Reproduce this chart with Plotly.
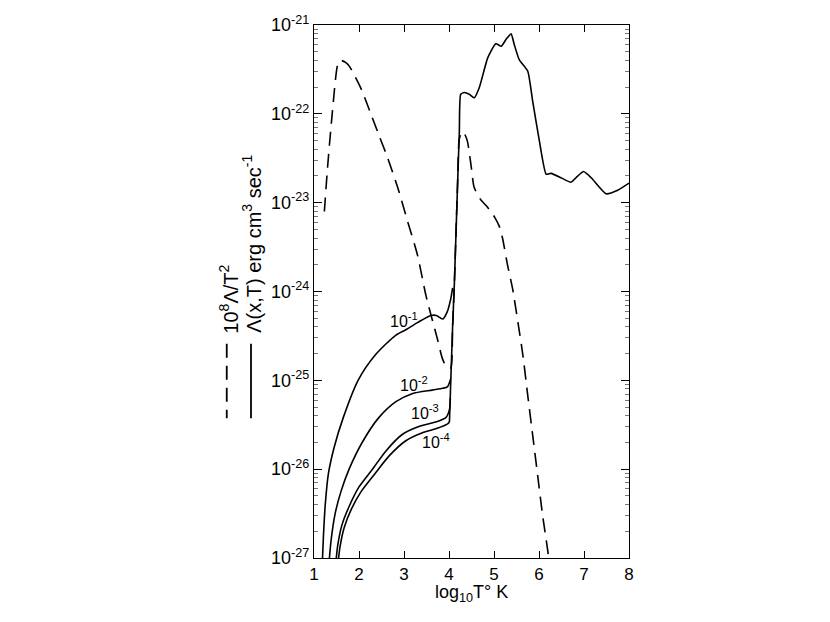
import plotly.graph_objects as go
import numpy as np

# log10 T and log10 Lambda
dash_x = [1.23, 1.30, 1.41, 1.53, 1.60, 1.70, 1.78, 2.04, 2.27, 2.45, 2.64, 2.86, 3.08, 3.30,
          3.49, 3.74, 3.85, 3.93, 3.98, 4.04, 4.08, 4.12, 4.19, 4.23, 4.30, 4.35, 4.41, 4.49,
          4.56, 4.71, 4.82, 4.93, 5.01, 5.12, 5.19, 5.30, 5.41, 5.53, 5.64, 5.75, 5.86, 5.97,
          6.08, 6.19, 6.23]
dash_y = [-23.10, -22.61, -21.97, -21.44, -21.40, -21.42, -21.46, -21.71, -22.01, -22.25,
          -22.50, -22.83, -23.21, -23.59, -24.05, -24.53, -24.75, -24.84, -24.86, -24.86,
          -24.40, -23.90, -22.80, -22.28, -22.20, -22.23, -22.31, -22.58, -22.83, -22.97,
          -23.03, -23.10, -23.16, -23.27, -23.40, -23.70, -23.96, -24.34, -24.71, -25.17,
          -25.62, -26.07, -26.52, -26.90, -27.05]

x_e1 = [1.185, 1.21, 1.25, 1.32, 1.45, 1.65, 1.98, 2.37, 2.82, 3.04, 3.30, 3.60, 3.72, 3.86,
        3.96, 4.04, 4.08]
y_e1 = [-27.05, -26.75, -26.40, -26.05, -25.75, -25.42, -25.00, -24.71, -24.49, -24.43,
        -24.35, -24.27, -24.27, -24.31, -24.23, -24.08, -23.96]

x_e2 = [1.335, 1.38, 1.47, 1.60, 1.78, 2.07, 2.44, 2.82, 3.18, 3.63, 3.86, 3.97, 4.04]
y_e2 = [-27.05, -26.80, -26.50, -26.25, -26.00, -25.70, -25.42, -25.24, -25.15, -25.11,
        -25.09, -25.07, -24.98]

x_e3 = [1.485, 1.53, 1.62, 1.78, 2.00, 2.30, 2.59, 2.96, 3.33, 3.70, 3.93, 4.01, 4.03]
y_e3 = [-27.05, -26.85, -26.63, -26.42, -26.20, -26.00, -25.80, -25.61, -25.52, -25.47,
        -25.42, -25.33, -25.20]

x_e4 = [1.535, 1.58, 1.67, 1.83, 2.05, 2.37, 2.67, 3.04, 3.41, 3.74, 3.97, 4.01]
y_e4 = [-27.05, -26.87, -26.66, -26.45, -26.25, -26.04, -25.85, -25.68, -25.59, -25.54,
        -25.49, -25.47]

x_hot = [4.01, 4.04, 4.08, 4.12, 4.19, 4.23, 4.26, 4.34, 4.45, 4.56, 4.67, 4.86, 5.04, 5.16,
         5.27, 5.38, 5.45, 5.56, 5.75, 5.86, 6.01, 6.16, 6.27, 6.49, 6.71, 6.86, 6.99, 7.16,
         7.49, 7.75, 8.0]
y_hot = [-25.47, -25.00, -24.40, -23.90, -22.80, -22.20, -21.78, -21.76, -21.78, -21.82,
         -21.71, -21.37, -21.21, -21.24, -21.16, -21.10, -21.22, -21.39, -21.52, -21.86,
         -22.31, -22.68, -22.67, -22.72, -22.77, -22.70, -22.65, -22.72, -22.90, -22.86,
         -22.78]

y_ticks = [-27, -26, -25, -24, -23, -22, -21]
x_ticks = [1, 2, 3, 4, 5, 6, 7, 8]

curve_labels = ["10<sup>-1</sup>", "10<sup>-2</sup>", "10<sup>-3</sup>", "10<sup>-4</sup>"]
label_x = [3.00, 3.23, 3.47, 3.72]
label_y = [-24.32, -25.04, -25.36, -25.68]

FONT = "Liberation Sans, Arial, sans-serif"

fig = go.Figure()

fig.add_trace(go.Scatter(
    x=dash_x, y=10.0 ** np.array(dash_y), mode="lines",
    line=dict(color="black", width=1.6, dash="14px,8px", shape="spline", smoothing=0.6),
    hoverinfo="skip"))

for xs, ys in [(x_e1, y_e1), (x_e2, y_e2), (x_e3, y_e3), (x_e4, y_e4)]:
    fig.add_trace(go.Scatter(
        x=xs, y=10.0 ** np.array(ys), mode="lines",
        line=dict(color="black", width=1.6, shape="spline", smoothing=0.7),
        hoverinfo="skip"))

fig.add_trace(go.Scatter(
    x=x_hot, y=10.0 ** np.array(y_hot), mode="lines",
    line=dict(color="black", width=1.6, shape="spline", smoothing=0.5),
    hoverinfo="skip"))

for t, lx, ly in zip(curve_labels, label_x, label_y):
    fig.add_annotation(x=lx, y=ly, text=t, showarrow=False,
                       font=dict(family=FONT, size=16, color="black"))

# x title placed by hand, tight under the tick labels
fig.add_annotation(xref="paper", yref="paper", x=0.5, y=-0.041, text="log<sub>10</sub>T° K",
                   showarrow=False, xanchor="center", yanchor="top",
                   font=dict(family=FONT, size=18, color="black"))

# rotated legend at the left
fig.add_annotation(xref="paper", yref="paper", x=-0.27, y=0.418, text="10<sup>8</sup>Λ/T<sup>2</sup>",
                   textangle=-90, showarrow=False, xanchor="center", yanchor="bottom",
                   font=dict(family=FONT, size=20, color="black"))
fig.add_annotation(xref="paper", yref="paper", x=-0.198, y=0.418,
                   text="Λ(x,T) erg cm<sup>3</sup> sec<sup>-1</sup>",
                   textangle=-90, showarrow=False, xanchor="center", yanchor="bottom",
                   font=dict(family=FONT, size=20, color="black"))
fig.add_shape(type="line", xref="paper", yref="paper", x0=-0.277, x1=-0.277, y0=0.402, y1=0.262,
              line=dict(color="black", width=1.8, dash="14px,8px"))
fig.add_shape(type="line", xref="paper", yref="paper", x0=-0.2, x1=-0.2, y0=0.402, y1=0.262,
              line=dict(color="black", width=1.8))

fig.update_xaxes(
    range=[1, 8], tickvals=x_ticks, ticks="inside", ticklen=7, tickwidth=1, tickcolor="black",
    showline=True, linecolor="black", linewidth=1.3, mirror="ticks", showgrid=False, zeroline=False,
    automargin=False, tickfont=dict(family=FONT, size=17, color="black"))

fig.update_yaxes(
    type="log", range=[-27, -21], tickvals=[10.0 ** v for v in y_ticks],
    ticktext=["10<sup>%d</sup>" % v for v in y_ticks],
    ticks="inside", ticklen=8, tickwidth=1, tickcolor="black",
    minor=dict(ticks="inside", ticklen=4, tickcolor="#777", dtick="D1"),
    showline=True, linecolor="black", linewidth=1.3, mirror="ticks", showgrid=False, zeroline=False,
    automargin=False, tickfont=dict(family=FONT, size=18, color="black"))

fig.update_layout(
    width=830, height=622, showlegend=False,
    margin=dict(l=306, r=209, t=17, b=72),
    paper_bgcolor="white", plot_bgcolor="white")

fig.write_html("out.html")
